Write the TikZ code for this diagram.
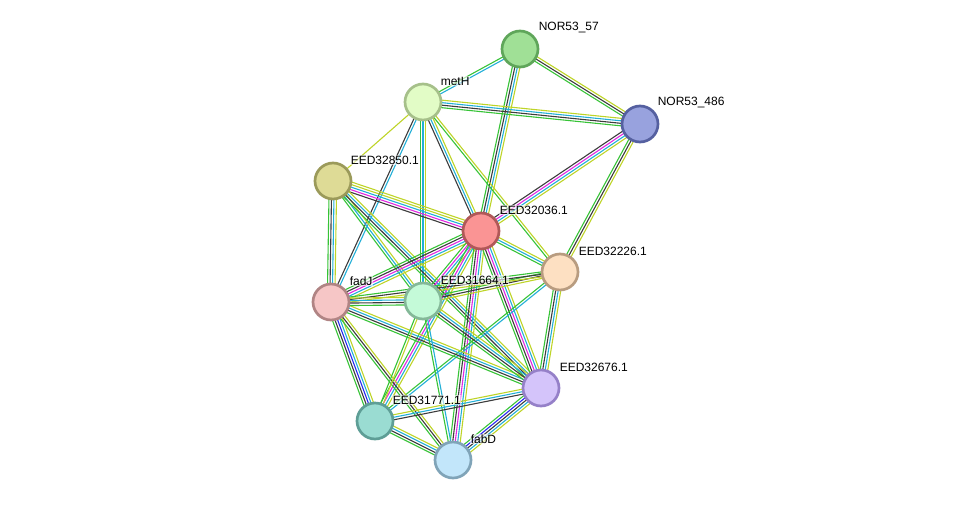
\documentclass[tikz,border=0pt]{standalone}
\usepackage{fontspec}
\setmainfont{Liberation Sans}
\usetikzlibrary{calc}
\pgfdeclarelayer{background}
\pgfsetlayers{background,main}
\definecolor{sgreen}{RGB}{55,195,55}
\definecolor{scyan}{RGB}{35,175,215}
\definecolor{sblack}{RGB}{60,60,60}
\definecolor{smag}{RGB}{225,40,225}
\definecolor{slime}{RGB}{190,212,40}
\definecolor{sblue}{RGB}{40,40,240}
\newcommand\edgebundle[3]{%
  \gdef\nb{0}%
  \foreach \c in {#3}{\pgfmathtruncatemacro\t{\nb+1}\global\let\nb\t}%
  \foreach \c [count=\i] in {#3}{%
    \pgfmathsetmacro\off{(\i-(\nb+1)/2)*2.5}%
    \draw[\c, line width=1.1pt] ($(#1)!\off pt!90:(#2)$) -- ($(#2)!\off pt!-90:(#1)$);}}
\tikzset{
  prot/.style={circle, minimum size=36pt, inner sep=0pt, line width=2.7pt},
  lab/.style={anchor=west, font=\fontsize{12pt}{12pt}\selectfont, fill=white, fill opacity=0.6, text opacity=1, inner sep=0.6pt}
}
\begin{document}
\begin{tikzpicture}[x=1pt,y=-1pt]
\useasboundingbox (0,0) rectangle (976,506);
\node[prot, fill={rgb,255:red,160;green,224;blue,150}, draw={rgb,255:red,95;green,166;blue,90}] (n57) at (520,49) {};
\node[prot, fill={rgb,255:red,226;green,252;blue,198}, draw={rgb,255:red,166;green,192;blue,138}] (meth) at (423,102) {};
\node[prot, fill={rgb,255:red,152;green,162;blue,222}, draw={rgb,255:red,85;green,96;blue,160}] (n486) at (640,124) {};
\node[prot, fill={rgb,255:red,222;green,219;blue,150}, draw={rgb,255:red,155;green,154;blue,90}] (e850) at (333,181) {};
\node[prot, fill={rgb,255:red,250;green,148;blue,148}, draw={rgb,255:red,176;green,88;blue,88}] (e036) at (481,231) {};
\node[prot, fill={rgb,255:red,253;green,224;blue,194}, draw={rgb,255:red,184;green,156;blue,128}] (e226) at (560,272) {};
\node[prot, fill={rgb,255:red,246;green,198;blue,198}, draw={rgb,255:red,176;green,132;blue,132}] (fadj) at (331,302) {};
\node[prot, fill={rgb,255:red,196;green,250;blue,216}, draw={rgb,255:red,132;green,184;blue,152}] (e664) at (423,301) {};
\node[prot, fill={rgb,255:red,212;green,196;blue,250}, draw={rgb,255:red,149;green,128;blue,200}] (e676) at (541,388) {};
\node[prot, fill={rgb,255:red,154;green,220;blue,210}, draw={rgb,255:red,94;green,158;blue,150}] (e771) at (375,421) {};
\node[prot, fill={rgb,255:red,194;green,230;blue,250}, draw={rgb,255:red,128;green,164;blue,184}] (fabd) at (453,460) {};

\node[lab] (ln57) at (538,28) {NOR53\_57};
\node[lab] (lmeth) at (440,81) {metH};
\node[lab] (ln486) at (657,103) {NOR53\_486};
\node[lab] (le850) at (350,160) {EED32850.1};
\node[lab] (le036) at (499,210) {EED32036.1};
\node[lab] (le226) at (578,251) {EED32226.1};
\node[lab] (lfadj) at (349,281) {fadJ};
\node[lab] (le664) at (440,280) {EED31664.1};
\node[lab] (le676) at (559,367) {EED32676.1};
\node[lab] (le771) at (392,400) {EED31771.1};
\node[lab] (lfabd) at (470,439) {fabD};

\begin{pgfonlayer}{background}
\edgebundle{n57}{meth}{sgreen,scyan}
\edgebundle{n57}{n486}{sgreen,sblack,slime}
\edgebundle{n57}{e036}{sgreen,sblack,scyan,slime}
\edgebundle{meth}{n486}{sgreen,sblack,scyan,slime}
\edgebundle{meth}{e036}{sblack,scyan,slime}
\edgebundle{meth}{e226}{sgreen,slime}
\edgebundle{meth}{e850}{slime}
\edgebundle{meth}{fadj}{sblack,scyan}
\edgebundle{meth}{e664}{sgreen,scyan,slime}
\edgebundle{e850}{e036}{sblack,smag,scyan,slime,slime}
\edgebundle{e850}{fadj}{sgreen,sblack,scyan,slime}
\edgebundle{e850}{e664}{sgreen,scyan,slime}
\edgebundle{e850}{e676}{sgreen,sblack,scyan,slime}
\edgebundle{n486}{e036}{sblack,smag,scyan,slime}
\edgebundle{n486}{e226}{sgreen,sblack,slime}
\edgebundle{e036}{e226}{sgreen,scyan,slime}
\edgebundle{e036}{fadj}{sgreen,sblack,smag,scyan,slime}
\edgebundle{e036}{e664}{sgreen,smag,scyan,slime}
\edgebundle{e036}{e771}{sgreen,smag,scyan,slime}
\edgebundle{e036}{fabd}{sgreen,sblack,smag,scyan,slime}
\edgebundle{e036}{e676}{sgreen,sblack,smag,scyan,slime}
\edgebundle{e226}{e664}{sgreen,sblack,slime}
\edgebundle{e226}{fadj}{sgreen,sblack,slime}
\edgebundle{e226}{e676}{sgreen,sblack,scyan,slime}
\edgebundle{e226}{e771}{sgreen,scyan}
\edgebundle{fadj}{e771}{sgreen,sblack,sblue,scyan,slime}
\edgebundle{fadj}{fabd}{sgreen,sblack,slime}
\edgebundle{fadj}{e676}{sgreen,sblack,scyan,slime}
\edgebundle{fadj}{e664}{sgreen,sblack,scyan,slime}
\edgebundle{e664}{e676}{sgreen,sblack,scyan,slime}
\edgebundle{e664}{fabd}{sgreen,scyan}
\edgebundle{e664}{e771}{sgreen,slime}
\edgebundle{e771}{e676}{sblack,scyan,slime}
\edgebundle{e771}{fabd}{sgreen,sblack,scyan,slime}
\edgebundle{e676}{fabd}{sgreen,sblue,sblack,scyan,slime}
\end{pgfonlayer}
\end{tikzpicture}
\end{document}
